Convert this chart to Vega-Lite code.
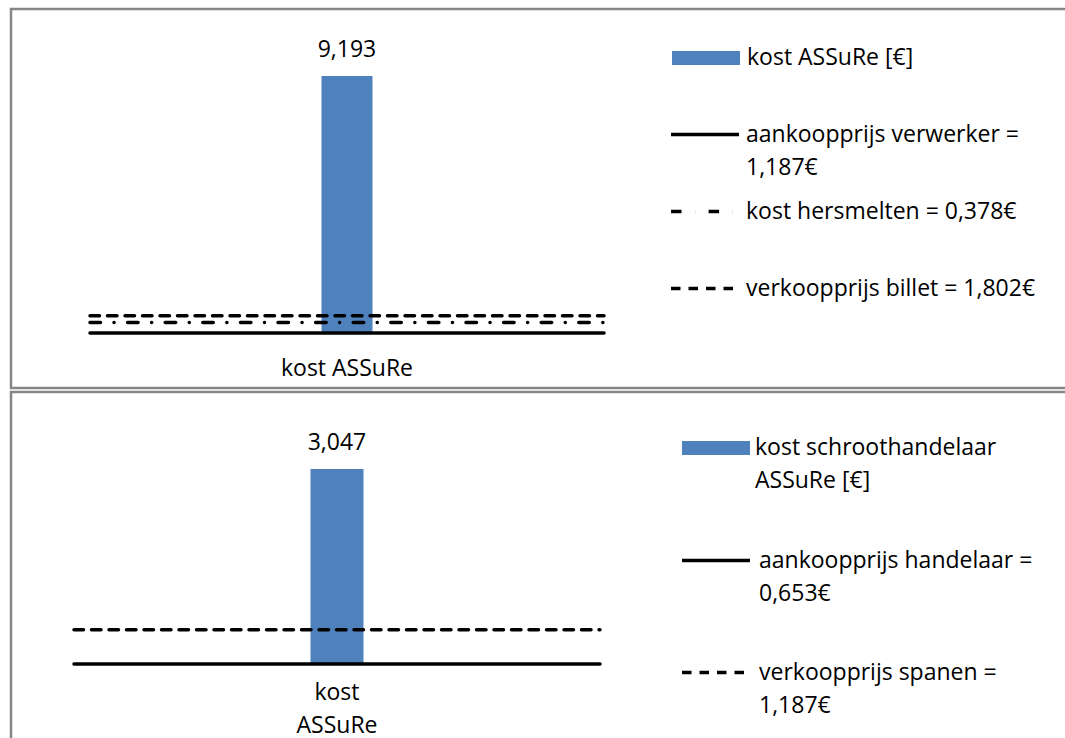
{
  "$schema": "https://vega.github.io/schema/vega-lite/v6.json",
  "padding": {"left": 9, "top": 7, "right": 0, "bottom": 0},
  "background": "white",
  "config": {
    "font": "Open Sans",
    "view": {"stroke": "#868686", "strokeWidth": 2.5},
    "concat": {"spacing": 0},
    "locale": {"number": {"decimal": ",", "thousands": ".", "grouping": [3], "currency": ["", "€"]}},
    "style": {"guide-label": {"lineHeight": 33}},
    "axis": {"labelFontSize": 23, "labelColor": "black", "labelAngle": 0, "domain": false, "ticks": false, "grid": false, "title": null},
    "legend": {"labelFontSize": 23, "labelColor": "black", "labelLimit": 500, "labelOffset": 5, "title": null, "orient": "none", "direction": "vertical"}
  },
  "datasets": {
    "verwerker_kost": [
      {"categorie": "kost ASSuRe", "reeks": "kost ASSuRe [€]", "kost": 9.193}
    ],
    "verwerker_prijzen": [
      {"categorie": "kost ASSuRe", "reeks": "aankoopprijs verwerker =\n1,187€", "niveau": 0},
      {"categorie": "kost ASSuRe", "reeks": "kost hersmelten = 0,378€", "niveau": 0.378},
      {"categorie": "kost ASSuRe", "reeks": "verkoopprijs billet = 1,802€", "niveau": 0.615}
    ],
    "handelaar_kost": [
      {"categorie": "kost ASSuRe", "reeks": "kost schroothandelaar\nASSuRe [€]", "kost": 3.047}
    ],
    "handelaar_prijzen": [
      {"categorie": "kost ASSuRe", "reeks": "aankoopprijs handelaar =\n0,653€", "niveau": 0},
      {"categorie": "kost ASSuRe", "reeks": "verkoopprijs spanen =\n1,187€", "niveau": 0.534}
    ]
  },
  "vconcat": [
    {
      "width": 1065,
      "height": 379,
      "layer": [
        {
          "data": {"name": "verwerker_kost"},
          "mark": {"type": "bar", "width": {"band": 0.0992}},
          "encoding": {
            "x": {"field": "categorie", "type": "nominal", "scale": {"range": [79, 593], "paddingInner": 0, "paddingOuter": 0}, "axis": {"orient": "bottom", "offset": -55, "labelPadding": 24}},
            "y": {"field": "kost", "type": "quantitative", "scale": {"domain": [-1.967, 11.589], "zero": false, "nice": false}, "axis": null},
            "y2": {"datum": 0},
            "fill": {"field": "reeks", "type": "nominal", "scale": {"domain": ["kost ASSuRe [€]"], "range": ["#4F81BD"]},
              "legend": {"legendX": 660, "legendY": 14, "symbolType": "M-1,-0.206H1V0.206H-1Z", "symbolSize": 4624, "labelOffset": 6}}
          }
        },
        {
          "data": {"name": "verwerker_prijzen"},
          "mark": {"type": "rule", "strokeWidth": 3.5, "strokeCap": "round", "color": "black"},
          "encoding": {
            "x": {"field": "categorie", "type": "nominal", "bandPosition": 0},
            "x2": {"field": "categorie", "bandPosition": 1},
            "y": {"field": "niveau", "type": "quantitative"},
            "strokeDash": {"field": "reeks", "type": "nominal",
              "scale": {"domain": ["aankoopprijs verwerker =\n1,187€", "kost hersmelten = 0,378€", "verkoopprijs billet = 1,802€"], "range": [[1, 0], [10.5, 13.5, 0.1, 13.5], [9.5, 8]]},
              "legend": {"legendX": 682.5, "legendY": 114, "symbolType": "M-4,0H4", "symbolSize": 289, "symbolStrokeWidth": 3.5, "symbolStrokeColor": "black", "rowPadding": 20, "labelOffset": 29.5,
                "labelExpr": "indexof(datum.label, '\\n') >= 0 ? split(datum.label, '\\n') : [datum.label, ' ']"}}
          }
        },
        {
          "data": {"name": "verwerker_kost"},
          "mark": {"type": "text", "dy": -26, "fontSize": 23, "color": "black"},
          "encoding": {
            "x": {"field": "categorie", "type": "nominal"},
            "y": {"field": "kost", "type": "quantitative"},
            "text": {"field": "kost", "type": "quantitative", "format": ".3f"}
          }
        }
      ]
    },
    {
      "width": 1065,
      "height": 378,
      "layer": [
        {
          "data": {"name": "handelaar_kost"},
          "mark": {"type": "bar", "width": {"band": 0.1008}},
          "encoding": {
            "x": {"field": "categorie", "type": "nominal", "scale": {"range": [63, 589], "paddingInner": 0, "paddingOuter": 0}, "axis": {"orient": "bottom", "offset": -106, "labelPadding": 17, "labelExpr": "split(datum.label, ' ')"}},
            "y": {"field": "kost", "type": "quantitative", "scale": {"domain": [-1.656, 4.25], "zero": false, "nice": false}, "axis": null},
            "y2": {"datum": 0},
            "fill": {"field": "reeks", "type": "nominal", "scale": {"domain": ["kost schroothandelaar\nASSuRe [€]"], "range": ["#4F81BD"]},
              "legend": {"legendX": 670, "legendY": 21, "symbolType": "M-1,-0.206H1V0.206H-1Z", "symbolSize": 4624, "labelOffset": 4, "labelExpr": "split(datum.label, '\\n')"}}
          }
        },
        {
          "data": {"name": "handelaar_prijzen"},
          "mark": {"type": "rule", "strokeWidth": 3.5, "strokeCap": "round", "color": "black"},
          "encoding": {
            "x": {"field": "categorie", "type": "nominal", "bandPosition": 0},
            "x2": {"field": "categorie", "bandPosition": 1},
            "y": {"field": "niveau", "type": "quantitative"},
            "strokeDash": {"field": "reeks", "type": "nominal",
              "scale": {"domain": ["aankoopprijs handelaar =\n0,653€", "verkoopprijs spanen =\n1,187€"], "range": [[1, 0], [9.5, 8]]},
              "legend": {"legendX": 693.5, "legendY": 157, "symbolType": "M-4,0H4", "symbolSize": 289, "symbolStrokeWidth": 3.5, "symbolStrokeColor": "black", "rowPadding": 55, "labelOffset": 31.5,
                "labelExpr": "split(datum.label, '\\n')"}}
          }
        },
        {
          "data": {"name": "handelaar_kost"},
          "mark": {"type": "text", "dy": -26, "fontSize": 23, "color": "black"},
          "encoding": {
            "x": {"field": "categorie", "type": "nominal"},
            "y": {"field": "kost", "type": "quantitative"},
            "text": {"field": "kost", "type": "quantitative", "format": ".3f"}
          }
        }
      ]
    }
  ],
  "resolve": {
    "scale": {"x": "independent", "y": "independent", "fill": "independent", "strokeDash": "independent"},
    "legend": {"fill": "independent", "strokeDash": "independent"}
  }
}
